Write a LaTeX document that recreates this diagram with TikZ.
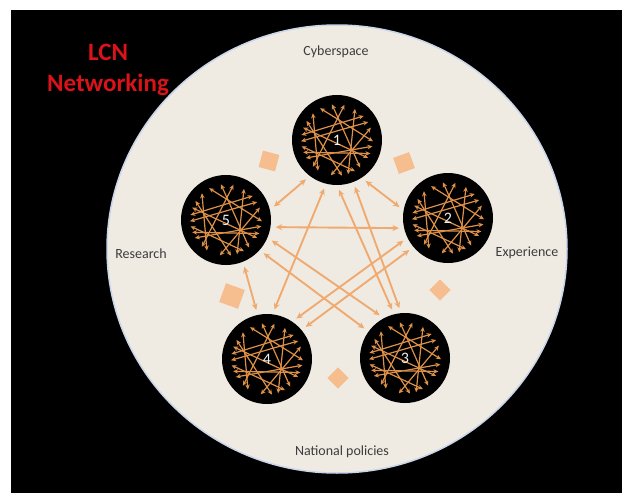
\documentclass[tikz,border=0pt]{standalone}
\usepackage{fontspec}
\setmainfont{Carlito}
\usetikzlibrary{arrows.meta}
\definecolor{cream}{HTML}{EFEBE3}
\definecolor{rimblue}{HTML}{C9D6EA}
\definecolor{netorange}{HTML}{DD9048}
\definecolor{connorange}{HTML}{EFAA70}
\definecolor{decoorange}{HTML}{F6BD8E}
\definecolor{labgray}{HTML}{3C3C3C}
\definecolor{titlered}{HTML}{DA1219}
\tikzset{
  net/.style={circle, fill=black, minimum size=90pt, inner sep=0pt},
  numlab/.style={text=white!88!gray, font=\fontsize{16}{18}\selectfont},
  netline/.style={draw=netorange, line width=1.2pt, {Stealth[length=5pt,width=4.5pt]}-{Stealth[length=5pt,width=4.5pt]}},
  conn/.style={draw=connorange, line width=1.9pt, {Stealth[length=6.5pt,width=6pt]}-{Stealth[length=6.5pt,width=6pt]}, shorten <=5pt, shorten >=5pt},
  deco/.style={fill=decoorange, minimum size=17pt, inner sep=0pt},
  lab/.style={text=labgray, font=\fontsize{14}{16}\selectfont},
  titletext/.style={text=titlered, align=center, font=\bfseries\fontsize{25}{31}\selectfont}
}
\newcommand\netlines[1]{%
  \begin{scope}[shift={(#1.center)}]
    \foreach \a/\b in {10/150, 30/200, 50/262, 72/300, 100/340, 122/228, 160/22, 188/318, 212/82, 242/2, 282/132, 330/178, 60/170}
      \draw[netline] (\a:36) -- (\b:36);
  \end{scope}}
\begin{document}
\begin{tikzpicture}[x=1pt,y=-1pt]
\useasboundingbox (0,0) rectangle (622,493);
\fill[white] (0,0) rectangle (622,493);
\fill[black] (11,10) rectangle (622,493);
\draw[draw=rimblue, line width=1.5pt, fill=cream] (337,249) ellipse [x radius=230, y radius=224];

% decorative squares
\node[deco, rotate=-15] (d1) at (269,161) {};
\node[deco, rotate=20] (d2) at (404,163) {};
\node[deco, rotate=45, minimum size=15pt] (d3) at (440,290) {};
\node[deco, rotate=-20, minimum size=20pt] (d4) at (232,296) {};
\node[deco, rotate=45, minimum size=15pt] (d5) at (338,378) {};

% network circles
\node[net] (n1) at (337,140) {};
\node[net] (n2) at (448,218) {};
\node[net] (n3) at (405,358) {};
\node[net] (n4) at (267,359) {};
\node[net] (n5) at (226,220) {};

% connectors between circles
\draw[conn] (n1.233) -- (n5.13);
\draw[conn] (n1.303) -- (n2.170);
\draw[conn] (n5.-9) -- (n2.193);
\draw[conn] (n1.256) -- (n4.83);
\draw[conn] (n1.270) -- (n3.104);
\draw[conn] (n1.291) -- (n3.95);
\draw[conn] (n5.337) -- (n3.118);
\draw[conn] (n5.318) -- (n3.144);
\draw[conn] (n2.206) -- (n4.56);
\draw[conn] (n2.220) -- (n4.40);
\draw[conn] (n5.292) -- (n4.102);

% internal networks
\netlines{n1}
\netlines{n2}
\netlines{n3}
\netlines{n4}
\netlines{n5}

\node[numlab] (l1) at (n1) {1};
\node[numlab] (l2) at (n2) {2};
\node[numlab] (l3) at (n3) {3};
\node[numlab] (l4) at (n4) {4};
\node[numlab] (l5) at (n5) {5};

% labels
\node[lab] (cyber) at (336,52) {Cyberspace};
\node[lab] (exp) at (527,253) {Experience};
\node[lab] (res) at (141,254) {Research};
\node[lab] (nat) at (342,452) {National policies};
\node[titletext] (title) at (108,70) {LCN\\Networking};
\end{tikzpicture}
\end{document}
